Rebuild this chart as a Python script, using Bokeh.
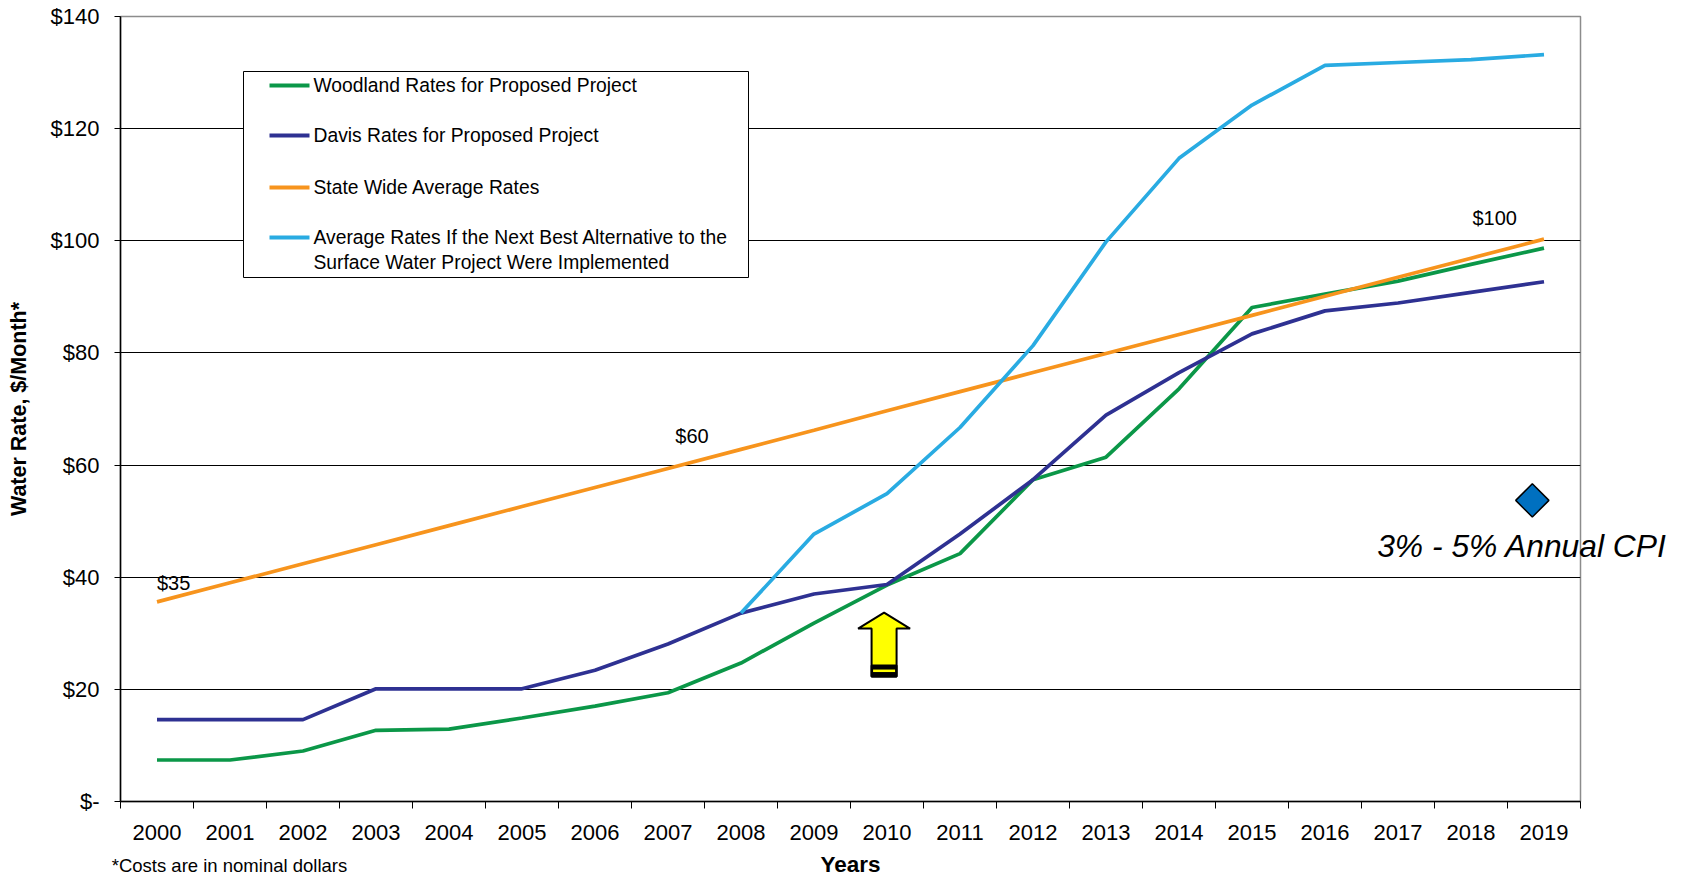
import numpy as np
from bokeh.plotting import figure
from bokeh.models import Range1d, FixedTicker, Label, BoxAnnotation
from bokeh.embed import file_html
from bokeh.resources import INLINE

# ---------------- data ----------------
YEARS = [str(y) for y in range(2000, 2020)]
WOODLAND = [7.4, 7.4, 9.0, 12.7, 12.9, 14.9, 17.0, 19.4, 24.7, 31.8, 38.6, 44.2,
            57.4, 61.4, 73.6, 88.1, 90.5, 92.8, 95.8, 98.7]
DAVIS = [14.6, 14.6, 14.6, 20.1, 20.1, 20.1, 23.4, 28.1, 33.6, 37.0, 38.7, 47.7,
         57.4, 68.9, 76.5, 83.4, 87.5, 88.9, 90.8, 92.7]
STATEWIDE = [35.6, 39.0, 42.4, 45.8, 49.2, 52.6, 56.0, 59.4, 62.8, 66.2, 69.7, 73.1,
             76.5, 79.9, 83.3, 86.7, 90.1, 93.5, 96.9, 100.3]
ALT_YEARS = YEARS[8:]
ALTERNATIVE = [33.6, 47.7, 54.9, 66.7, 81.3, 99.8, 114.7, 124.2, 131.3, 131.8, 132.3, 133.2]

SERIES_NAMES = ["Woodland  Rates for Proposed Project",
                "Davis Rates for Proposed Project",
                "State Wide Average Rates",
                "Average Rates If the Next Best Alternative to the\nSurface Water Project Were Implemented"]
COLORS = ["#0B9748", "#2E3192", "#F7941D", "#29ABE2"]

Y_TICKS = [0, 20, 40, 60, 80, 100, 120, 140]
Y_LABELS = ["$-", "$20", "$40", "$60", "$80", "$100", "$120", "$140"]

CPI_LEVEL = 53.7
ARROW_YEAR = "2010"
ARROW_TIP = 33.7

FONT = "Liberation Sans"

# ---------------- figure ----------------
FW, FH = 1460, 785
p = figure(frame_width=FW, frame_height=FH,
           x_range=Range1d(0, len(YEARS)), y_range=Range1d(0, 140),
           output_backend="svg", toolbar_location=None,
           min_border_left=120, min_border_right=90, min_border_top=16, min_border_bottom=76,
           background_fill_color="white", border_fill_color="white")
p.outline_line_color = "#8c8c8c"
p.outline_line_width = 1.5

pos = {y: i + 0.5 for i, y in enumerate(YEARS)}
x = [pos[y] for y in YEARS]
xa = [pos[y] for y in ALT_YEARS]
px_x = FW / len(YEARS)
px_y = FH / 140.0

# grid
p.xgrid.visible = False
p.ygrid.ticker = FixedTicker(ticks=Y_TICKS)
p.ygrid.grid_line_color = "black"
p.ygrid.grid_line_width = 1

# y axis
ya = p.yaxis[0]
ya.ticker = FixedTicker(ticks=Y_TICKS)
ya.major_label_overrides = {t: l for t, l in zip(Y_TICKS, Y_LABELS)}
ya.major_tick_out = 6
ya.major_tick_in = 0
ya.minor_tick_line_color = None
ya.axis_line_color = "black"
ya.axis_line_width = 1.5
ya.major_tick_line_color = "black"
ya.major_label_text_font = FONT
ya.major_label_text_font_size = "22px"
ya.major_label_text_color = "black"
ya.major_label_standoff = 15
ya.axis_label = "Water Rate, $/Month*"
ya.axis_label_text_font = FONT
ya.axis_label_text_font_style = "bold"
ya.axis_label_text_font_size = "21.5px"
ya.axis_label_text_color = "black"
ya.axis_label_standoff = 17

# x axis
xax = p.xaxis[0]
xax.ticker = FixedTicker(ticks=x, minor_ticks=list(range(len(YEARS) + 1)))
xax.major_label_overrides = {float(v): y for v, y in zip(x, YEARS)}
xax.major_tick_out = 0
xax.major_tick_in = 0
xax.minor_tick_out = 7
xax.minor_tick_in = 0
xax.minor_tick_line_color = "black"
xax.axis_line_color = "black"
xax.axis_line_width = 1.5
xax.major_label_text_font = FONT
xax.major_label_text_font_size = "22px"
xax.major_label_text_color = "black"
xax.major_label_standoff = 16
xax.axis_label = "Years"
xax.axis_label_text_font = FONT
xax.axis_label_text_font_style = "bold"
xax.axis_label_text_font_size = "22.5px"
xax.axis_label_text_color = "black"
xax.axis_label_standoff = 9

# ---------------- series ----------------
LW = 3.7
p.line(x, WOODLAND, line_color=COLORS[0], line_width=LW)
p.line(x, DAVIS, line_color=COLORS[1], line_width=LW)
p.line(x, STATEWIDE, line_color=COLORS[2], line_width=LW)
p.line(xa, ALTERNATIVE, line_color=COLORS[3], line_width=LW)

# value labels on the state-wide line
for txt, xx, yy in [("$35", pos["2000"], 38.9), ("$60", pos["2007"] + 0.1, 65.1),
                    ("$100", pos["2019"] - 0.98, 104.0)]:
    p.add_layout(Label(x=xx, y=yy, text=txt, text_font=FONT, text_font_size="20px",
                       text_color="black", text_baseline="middle", text_align="left"))

# ---------------- yellow arrow ----------------
ax = pos[ARROW_YEAR] - 0.04
hw = 26 / px_x
sw = 12.5 / px_x
tip = ARROW_TIP
hb = tip - 16 / px_y
bot = tip - 64 / px_y
p.patch([ax, ax + hw, ax + sw, ax + sw, ax - sw, ax - sw, ax - hw],
        [tip, hb, hb, bot, bot, hb, hb],
        fill_color="#FFFF00", line_color="black", line_width=2)
p.quad(left=[ax - sw], right=[ax + sw], top=[tip - 53 / px_y], bottom=[bot],
       fill_color="black", line_color="black", line_width=2)
p.quad(left=[ax - sw + 1.5 / px_x], right=[ax + sw - 1.5 / px_x],
       top=[tip - 57 / px_y], bottom=[tip - 59.5 / px_y],
       fill_color="#FFFF00", line_color=None)

# ---------------- CPI marker ----------------
cx = pos["2019"] - 0.16
p.scatter([cx], [CPI_LEVEL], marker="square", size=23.5, angle=np.pi / 4,
          fill_color="#0070C0", line_color="black", line_width=1.5)
# placed in a side panel so that it may overflow the plot frame
p.add_layout(Label(x=pos["2019"] - 0.3, y=CPI_LEVEL - 8.2, text="3% - 5% Annual CPI",
                   text_font=FONT, text_font_size="31.8px", text_font_style="italic",
                   text_color="black", text_align="center", text_baseline="middle"),
             "right")

# ---------------- legend (manual box) ----------------
p.add_layout(BoxAnnotation(left=123, right=628, top=730, bottom=524,
                           left_units="screen", right_units="screen",
                           top_units="screen", bottom_units="screen",
                           fill_color="white", fill_alpha=1.0,
                           line_color="black", line_width=1, line_alpha=1.0))
rows = [716, 666, 614, 564]
for name, col, sy in zip(SERIES_NAMES, COLORS, rows):
    p.add_layout(BoxAnnotation(left=149, right=189, bottom=sy - 2, top=sy + 2,
                               left_units="screen", right_units="screen",
                               top_units="screen", bottom_units="screen",
                               fill_color=col, fill_alpha=1.0, line_color=None))
    for k, line in enumerate(name.split("\n")):
        p.add_layout(Label(x=193, y=sy - 25 * k, x_units="screen", y_units="screen",
                           text=line, text_font=FONT, text_font_size="19.3px",
                           text_color="black", text_baseline="middle"))

# footnote (in the lower panel, positioned with the data scales)
p.add_layout(Label(x=-0.12, y=-11.4, text="*Costs are in nominal dollars", text_font=FONT,
                   text_font_size="18.5px", text_color="black", text_baseline="middle"),
             "below")

open("out.html", "w").write(file_html(p, INLINE))
